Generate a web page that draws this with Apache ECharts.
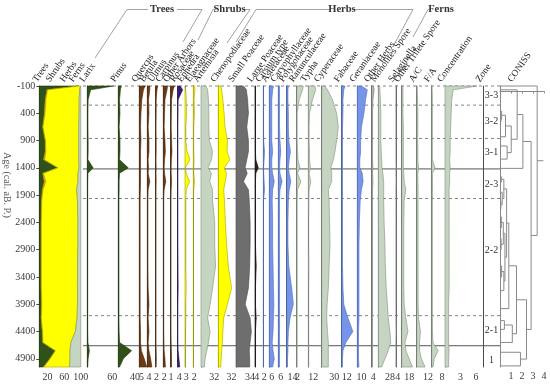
<!DOCTYPE html>
<html><head><meta charset="utf-8">
<script src="https://cdn.jsdelivr.net/npm/echarts@6/dist/echarts.min.js"></script>
<style>html,body{margin:0;padding:0;background:#fff}#c{width:550px;height:387px}</style>
</head><body><div id="c"></div>
<script>
// ---------- DATA ----------
const ages = [-100, -30, 150, 400, 650, 900, 1100, 1250, 1400, 1500, 1650, 1800, 2000, 2400, 2800, 3200, 3600, 3900, 4150, 4400, 4600, 4750, 4900, 5050];
const ageTicks = [-100, 400, 900, 1400, 1900, 2400, 2900, 3400, 3900, 4400, 4900];

const treesPct  = [95, 18, 14, 12, 8, 14, 14, 10, 44, 8, 12, 7, 5, 4, 4, 4, 4, 5, 4, 7, 8, 38, 25, 10];
const shrubsPct = [1, 2, 2, 2, 1, 1, 2, 3, 1, 2, 4, 2, 1, 1, 1, 1, 1, 1, 1, 1, 1, 1, 1, 1];
const herbsPct  = [3, 77, 80, 82, 86, 80, 79, 82, 51, 83, 77, 81, 86, 88, 88, 87, 87, 86, 86, 79, 67, 35, 48, 62];
const fernsPct  = [1, 3, 4, 4, 5, 5, 5, 5, 4, 7, 7, 10, 8, 7, 7, 8, 8, 8, 9, 13, 24, 26, 26, 27];
const sumTicks  = [20, 60, 100];

const larix        = [63, 8, 2, 1.5, 1.5, 2, 2, 1.5, 14, 1.5, 1, 1, 1, 1, 1, 1, 1, 1, 1, 1, 1.5, 5, 2, 1];
const pinus        = [7, 5, 3, 4, 2, 4, 4, 3, 24, 3, 2, 2, 1.5, 1.5, 1.5, 1.5, 1.5, 1.5, 1.5, 2, 3, 32, 12, 3];
const quercus      = [14, 10, 6, 4, 3, 4, 3, 3, 3, 3, 3, 2.5, 2, 2, 2, 2, 2, 2, 2, 3, 3, 5, 12, 18];
const betula       = [6, 6, 3, 4, 2, 4, 4, 2, 3, 2, 6, 2, 1.5, 1.5, 1.5, 1.5, 2, 4, 2, 4, 2, 4, 8, 11];
const ulmus        = [5, 3, 1, 1, 0.5, 1, 1, 0.5, 1, 0.5, 1, 0.5, 0.5, 0.5, 0.5, 0.5, 0.5, 0.5, 0.5, 0.5, 0.5, 1, 1.5, 1];
const carpinus     = [10, 9, 4, 3, 2, 4, 5, 3, 2, 3, 6, 2, 1, 1, 1, 1, 1, 1, 1, 1, 1.5, 2, 4, 5];
const otherArbors  = [9, 6, 2, 1.5, 1, 2, 3, 1.5, 1, 1, 2, 1, 0.5, 0.5, 0.5, 0.5, 0.5, 0.5, 0.5, 0.5, 1, 1.5, 2, 2];
const rosaceae     = [6, 12, 1, 0.5, 0, 0, 0, 0, 0, 0, 0, 0, 0, 0, 0, 0.5, 1, 0, 0, 0, 0, 1, 3, 5];
const ephedra      = [0, 2, 3, 4, 2, 2, 5, 12, 1, 3, 11, 3, 2, 2, 2, 2, 3, 2, 2, 1.5, 1.5, 1, 1, 1];
const elaeagnaceae = [4, 4, 2, 3, 1, 1, 1, 2, 1, 1, 3, 1, 0.5, 0.5, 0.5, 0.5, 0.5, 0.5, 0.5, 0.5, 0.5, 0.5, 0.5, 0.5];
const artemisia    = [12, 16, 18, 19, 19, 20, 28, 25, 17, 25, 21, 28, 28, 33, 33, 35, 28, 22, 16, 22, 18, 14, 10, 8];
const chenopod     = [6, 8, 11, 14, 16, 22, 21, 28, 14, 20, 17, 13, 15, 17, 20, 24, 32, 22, 13, 11, 10, 8, 7, 6];
const smallPoaceae = [18, 25, 28, 30, 26, 30, 30, 26, 22, 27, 18, 30, 32, 34, 34, 33, 30, 22, 34, 37, 34, 32, 33, 33];
const largePoaceae = [0, 1, 1, 1, 1, 1, 1, 2, 8, 2, 1, 1, 1, 1, 1, 3, 1, 1, 3, 1, 1, 1, 1, 1];
const cirsium      = [0.5, 0.5, 0.5, 0.5, 0.5, 1, 3, 2, 0.5, 1, 2, 3, 0.5, 0.5, 0.5, 0.5, 0.5, 0.5, 0.5, 0.5, 0.5, 0.5, 0.5, 0.5];
const asteraceae   = [10, 8, 6, 6, 6, 6, 8, 6, 6, 8, 12, 8, 7, 8, 8, 9, 10, 11, 10, 9, 7, 9, 12, 8];
const caryophyll   = [3, 3, 3, 3, 3, 4, 6, 4, 3, 4, 9, 4, 3, 3, 3, 3, 3, 3, 3, 3, 3, 3, 3, 3];
const polygonaceae = [4, 3, 3, 4, 4, 5, 9, 6, 4, 6, 10, 6, 4, 3, 3, 5, 12, 16, 8, 4, 3, 3, 2, 2];
const ranunculus   = [16, 14, 6, 1, 1, 1, 2, 3, 8, 2, 10, 2, 1, 1, 1, 1, 1, 1, 1, 1, 1, 1, 1, 1];
const typha        = [16, 18, 10, 3, 2, 2, 3, 3, 5, 2, 6, 2, 1.5, 1, 1, 1.5, 1, 1, 1, 1, 1, 1, 1, 1];
const cyperaceae   = [8, 14, 26, 36, 40, 36, 32, 28, 22, 24, 24, 16, 18, 19, 20, 18, 16, 13, 12, 14, 16, 16, 16, 16];
const fabaceae     = [8, 5, 3, 3, 2, 2, 2, 2, 2, 2, 2, 2, 2, 2, 2, 2, 3, 5, 15, 27, 10, 3, 2, 2];
const geraniaceae  = [10, 24, 20, 16, 10, 8, 8, 6, 6, 12, 14, 10, 7, 5, 4, 4, 4, 4, 4, 3, 3, 3, 3, 4];
const otherHerbs   = [4, 6, 3, 2, 2, 2, 2, 2, 3, 2, 3, 2, 2, 2, 2, 2, 2, 2, 2, 2, 2, 2, 2, 2];
const monolites    = [3, 4, 5, 6, 6, 6, 7, 8, 9, 11, 13, 13, 13, 14, 16, 17, 19, 22, 24, 28, 30, 24, 16, 8];
const selaginella  = [0.5, 0.5, 0.5, 0.5, 0.5, 0.5, 0.5, 0.5, 1, 0.5, 1, 0.5, 0.5, 0.5, 0.5, 0.5, 0.5, 0.5, 0.5, 1, 0.5, 0.5, 0.5, 0.5];
const otherTrilete = [3, 3, 3, 3, 4, 4, 4, 4, 4, 5, 6, 10, 6, 5, 5, 5, 5, 6, 10, 15, 8, 10, 18, 26];
const acRatio      = [0.5, 0.5, 1, 1.2, 1.2, 1, 1.3, 1.2, 2, 1.2, 1.3, 1.5, 1.4, 1.4, 1.4, 1.4, 1.5, 1.5, 2, 4, 3, 3, 5, 9];
const faRatio      = [0.2, 0.3, 0.5, 0.5, 0.5, 0.5, 0.5, 0.5, 2.6, 0.5, 0.6, 0.6, 0.5, 0.5, 0.5, 0.5, 0.5, 0.5, 0.5, 0.6, 1, 5, 2, 1];
const concentration= [6.2, 1.6, 1.3, 1.2, 1.1, 1.0, 1.0, 0.9, 1.0, 0.9, 0.9, 0.8, 0.8, 0.8, 0.8, 0.8, 0.8, 0.7, 0.7, 0.7, 0.7, 0.8, 0.7, 0.7];
const concTicks    = [3, 6];

const zoneBounds      = [-100, 250, 860, 1420, 1960, 4110, 4660];
const zoneBoundSolid  = [false, false, false, true, false, false, true];
const zoneNames       = ['3-3', '3-2', '3-1', '2-3', '2-2', '2-1', '1'];
const zoneLabelAges   = [70, 555, 1110, 1700, 2910, 4380, 4920];

// CONISS tree: [dissimilarity, upperChild, lowerChild]; leaves are sample ages
const conissTree = [3.38, -100,
  [2.83,
    [2.08, [1.56, -30, [1.02, [0.5, [0.15, 360, [0.08, 460, 560]], 830], [0.65, 1000, 1240]]], 1410],
    [2.41,
      [1.5,
        [0.8,
          [0.6,
            [0.35, [0.12, 1560, 1660], [0.2, 1850, [0.08, 2000, 2150]]],
            [0.45, [0.3, [0.12, 2300, 2500], [0.1, 2700, 2900]], [0.35, [0.15, 3200, 3400], 3650]]],
          3980],
        [1.12, [0.4, 4200, 4360], 4600]],
      [1.86, 4780, 5030]]]];
const conissRootStub = 3.95;
const conissTicks = [1, 2, 3, 4];

// ---------- STYLE / LAYOUT ----------
const FONT = '"Liberation Serif","DejaVu Serif",serif';
const GREEN='#2f5219', BROWN='#6b3a12', PURPLE='#3b1d78', YELLOW='#ffff00', GG='#c6d5c2',
      DGRAY='#6e6e6e', BLACK='#2a2218', BLUE='#7795e8', GRAY='#b8b8b8', ORANGE='#f2b01e';
const STROKE = {};
STROKE[GREEN]='#1c3509'; STROKE[BROWN]='#4a2608'; STROKE[PURPLE]='#26104f'; STROKE[YELLOW]='#a4a400';
STROKE[GG]='#7f8f7c'; STROKE[DGRAY]='#4a4a4a'; STROKE[BLACK]='#111'; STROKE[BLUE]='#4d6cc0';
STROKE[GRAY]='#7a7a7a'; STROKE[ORANGE]='#b07800';
const TOP = 86, BOTTOM = 20, AGE_MIN = -100, AGE_MAX = 5050, PCT = 0.415;

const panels = [
  {name:'Larix', data:larix, x0:87.3, lv:60, fill:GREEN},
  {name:'Pinus', data:pinus, x0:118.3, lv:40, fill:GREEN},
  {name:'Quercus', data:quercus, x0:139.3, lv:5, fill:BROWN},
  {name:'Betula', data:betula, x0:147.3, lv:4, fill:BROWN},
  {name:'Ulmus', data:ulmus, x0:155.7, lv:2, fill:BROWN},
  {name:'Carpinus', data:carpinus, x0:163.3, lv:2, fill:BROWN},
  {name:'Other Arbors', data:otherArbors, x0:170.7, lv:1, fill:BROWN},
  {name:'Rosaceae', data:rosaceae, x0:177.7, lv:4, fill:PURPLE},
  {name:'Ephedra', data:ephedra, x0:185, lv:3, fill:YELLOW},
  {name:'Elaeagnaceae', data:elaeagnaceae, x0:193.3, lv:2, fill:YELLOW},
  {name:'Artemisia', data:artemisia, x0:201, lv:32, fill:GG},
  {name:'Chenopodiaceae', data:chenopod, x0:218.3, lv:32, fill:YELLOW},
  {name:'Small Poaceae', data:smallPoaceae, x0:236, lv:34, fill:DGRAY},
  {name:'Large Poaceae', data:largePoaceae, x0:255, lv:4, fill:BLACK},
  {name:'Cirsium type', data:cirsium, x0:263.3, lv:2, fill:BLUE},
  {name:'Asteraceae', data:asteraceae, x0:269.3, lv:6, fill:BLUE},
  {name:'Caryophyllaceae', data:caryophyll, x0:278.3, lv:6, fill:BLUE},
  {name:'Polygonaceae', data:polygonaceae, x0:286.7, lv:14, fill:BLUE},
  {name:'Ranunculaceae', data:ranunculus, x0:296.7, lv:2, fill:GG},
  {name:'Typha', data:typha, x0:308.3, lv:12, fill:GG},
  {name:'Cyperaceae', data:cyperaceae, x0:321.7, lv:30, fill:GG},
  {name:'Fabaceae', data:fabaceae, x0:341.7, lv:12, fill:BLUE},
  {name:'Geraniaceae', data:geraniaceae, x0:357.3, lv:10, fill:BLUE},
  {name:'Other Herbs', data:otherHerbs, x0:371.7, lv:4, fill:GRAY},
  {name:'Monolites Spore', data:monolites, x0:378.3, lv:28, fill:GG},
  {name:'Selaginella', data:selaginella, x0:396, lv:4, fill:GRAY},
  {name:'Other Trilete Spore', data:otherTrilete, x0:401.7, lv:18, fill:GG},
  {name:'A/C', data:acRatio, x0:416.7, lv:12, s:0.94, fill:GG},
  {name:'F/A', data:faRatio, x0:431.7, lv:8, s:1.29, fill:GG},
  {name:'Concentration', data:concentration, x0:445, lv:6, s:5.15, ticks:concTicks, fill:GG}
];

// ---------- BUILD ----------
const grids = [], xAxes = [], yAxes = [], series = [], graphics = [];
const plain = v => String(v);
const labelStyle = {fontFamily: FONT, fontSize: 10, color: '#3a3a3a', formatter: plain};

function addGrid(left, width, xmax, xopts, yopts) {
  const i = grids.length;
  grids.push({left: left, width: width, top: TOP, bottom: BOTTOM});
  xAxes.push(Object.assign({type:'value', gridIndex:i, min:0, max:xmax, position:'bottom',
    axisLine:{show:false}, axisTick:{show:false}, splitLine:{show:false},
    axisLabel:{show:false}}, xopts || {}));
  yAxes.push(Object.assign({type:'value', gridIndex:i, min:AGE_MIN, max:AGE_MAX, inverse:true,
    axisLine:{show:true, lineStyle:{color:'#4a4a4a', width:1}}, axisTick:{show:false},
    splitLine:{show:false}, axisLabel:{show:false}}, yopts || {}));
  return i;
}

function bandSeries(gi, lower, upper, fill, z) {
  return {
    type:'custom', coordinateSystem:'cartesian2d', xAxisIndex:gi, yAxisIndex:gi,
    data: ages.map((a, k) => [upper[k], a]), encode:{x:0, y:1},
    clip:false, silent:true, z: z || 3,
    renderItem: function (params, api) {
      if (params.dataIndex !== 0) return null;
      const pts = [];
      for (let k = 0; k < ages.length; k++) pts.push(api.coord([upper[k], ages[k]]));
      for (let k = ages.length - 1; k >= 0; k--) pts.push(api.coord([lower ? lower[k] : 0, ages[k]]));
      return {type:'polygon', shape:{points:pts}, style:{fill:fill, stroke:STROKE[fill] || '#555', lineWidth:0.6}};
    }
  };
}

// Frame grid for zone boundary lines (x from 83 to 500)
const fg = addGrid(83, 417, 1, {}, {axisLine:{show:false}});
series.push({
  type:'custom', coordinateSystem:'cartesian2d', xAxisIndex:fg, yAxisIndex:fg,
  data: zoneBounds.map((a) => [0, a]), encode:{x:0, y:1}, clip:false, silent:true, z:1,
  renderItem: function (params, api) {
    const a = api.coord([0, api.value(1)]), b = api.coord([1, api.value(1)]);
    const solid = zoneBoundSolid[params.dataIndex];
    return {type:'line', shape:{x1:a[0], y1:a[1], x2:b[0], y2:b[1]},
      style:{stroke: solid ? '#555' : '#666', lineWidth: solid ? 1 : 0.8, lineDash: solid ? null : [3, 3]}};
  }
});

// Summary panel (stacked)
const g0 = addGrid(39.3, 100 * PCT, 100,
  {axisLabel:Object.assign({show:true, margin:5, customValues:sumTicks}, labelStyle)},
  {axisLabel:Object.assign({show:true, margin:4, customValues:ageTicks}, labelStyle),
   axisTick:{show:true, length:3, customValues:ageTicks, lineStyle:{color:'#4a4a4a'}}});
const cum1 = treesPct.slice();
const cum2 = cum1.map((v, k) => v + shrubsPct[k]);
const cum3 = cum2.map((v, k) => v + herbsPct[k]);
const cum4 = cum3.map((v, k) => v + fernsPct[k]);
series.push(bandSeries(g0, null, cum1, GREEN));
series.push(bandSeries(g0, cum1, cum2, ORANGE));
series.push(bandSeries(g0, cum2, cum3, YELLOW));
series.push(bandSeries(g0, cum3, cum4, GG));

// Taxon panels
panels.forEach(p => {
  const s = p.s || PCT;
  const gi = addGrid(p.x0, p.lv * s, p.lv,
    {axisLabel:Object.assign({show:true, margin:5, customValues: p.ticks || [p.lv]}, labelStyle)});
  series.push(bandSeries(gi, null, p.data, p.fill));
});

// Zone column
const zg = addGrid(483, 17, 1);
series.push({
  type:'custom', coordinateSystem:'cartesian2d', xAxisIndex:zg, yAxisIndex:zg,
  data: zoneLabelAges.map((a) => [0.5, a]), encode:{x:0, y:1}, clip:false, silent:true, z:4,
  renderItem: function (params, api) {
    const c = api.coord([api.value(0), api.value(1)]);
    return {type:'text', x:c[0], y:c[1], style:{text:zoneNames[params.dataIndex], fill:'#333',
      font:'10px ' + FONT, align:'center', verticalAlign:'middle'}};
  }
});

// CONISS
const segs = [];
function walk(node) {
  if (typeof node === 'number') return {d:0, y:node};
  const A = walk(node[1]), B = walk(node[2]), d = node[0];
  segs.push([A.d, A.y, d, A.y]);
  segs.push([B.d, B.y, d, B.y]);
  segs.push([d, A.y, d, B.y]);
  return {d:d, y:(A.y + B.y) / 2};
}
const root = walk(conissTree);
segs.push([root.d, root.y, conissRootStub, root.y]);
const cg = addGrid(500, 44, 4,
  {axisLine:{show:true, lineStyle:{color:'#888'}}, axisTick:{show:true, length:2, lineStyle:{color:'#888'}},
   interval:1, axisLabel:Object.assign({show:true, margin:4, customValues:conissTicks}, labelStyle)},
  {axisLine:{show:true, lineStyle:{color:'#888', width:1}}});
series.push({
  type:'custom', coordinateSystem:'cartesian2d', xAxisIndex:cg, yAxisIndex:cg,
  data: segs, encode:{x:[0, 2], y:[1, 3]}, clip:false, silent:true, z:3,
  renderItem: function (params, api) {
    const a = api.coord([api.value(0), api.value(1)]), b = api.coord([api.value(2), api.value(3)]);
    return {type:'line', shape:{x1:a[0], y1:a[1], x2:b[0], y2:b[1]}, style:{stroke:'#8a8a8a', lineWidth:1}};
  }
});

// ---------- TEXT / DECORATION ----------
const ROT = 55 * Math.PI / 180;
function rotLabel(text, x) {
  graphics.push({type:'text', x:x, y:84, rotation:ROT, silent:true,
    style:{text:text, font:'9.5px ' + FONT, fill:'#222', textAlign:'left', textVerticalAlign:'bottom'}});
}
[['Trees', 39], ['Shrubs', 52], ['Herbs', 66], ['Ferns', 75]].forEach(t => rotLabel(t[0], t[1]));
panels.forEach(p => rotLabel(p.name, p.x0 - 1.5));
rotLabel('Zone', 482);
rotLabel('CONISS', 514);

graphics.push({type:'text', x:7, y:185, rotation:-Math.PI / 2, silent:true,
  style:{text:'Age (cal. aB. P.)', font:'10px ' + FONT, fill:'#555', textAlign:'center', textVerticalAlign:'middle'}});

const bracketLines = [
  [[95, 58], [127, 9.5], [148, 9.5]], [[177, 9.5], [202, 9.5], [183, 42]],
  [[198, 40], [213, 9.5], [216, 9.5]], [[243, 9.5], [250, 9.5], [227, 43]],
  [[236, 42], [256, 9.5], [331, 9.5]], [[353, 9.5], [413, 9.5], [395, 43]],
  [[413, 37], [428, 9.5], [430, 9.5]]
];
bracketLines.forEach(pts => graphics.push({type:'polyline', silent:true, shape:{points:pts},
  style:{stroke:'#8a8a8a', lineWidth:0.8, fill:null}}));
[['Trees', 162], ['Shrubs', 229.5], ['Herbs', 342], ['Ferns', 441]].forEach(t =>
  graphics.push({type:'text', x:t[1], y:9.5, silent:true,
    style:{text:t[0], font:'bold 10.5px ' + FONT, fill:'#333', textAlign:'center', textVerticalAlign:'middle'}}));

const chart = echarts.init(document.getElementById('c'), null, {renderer:'canvas'});
chart.setOption({
  animation:false,
  backgroundColor:'#fff',
  grid: grids, xAxis: xAxes, yAxis: yAxes, series: series,
  graphic: {elements: graphics}
});
</script></body></html>
